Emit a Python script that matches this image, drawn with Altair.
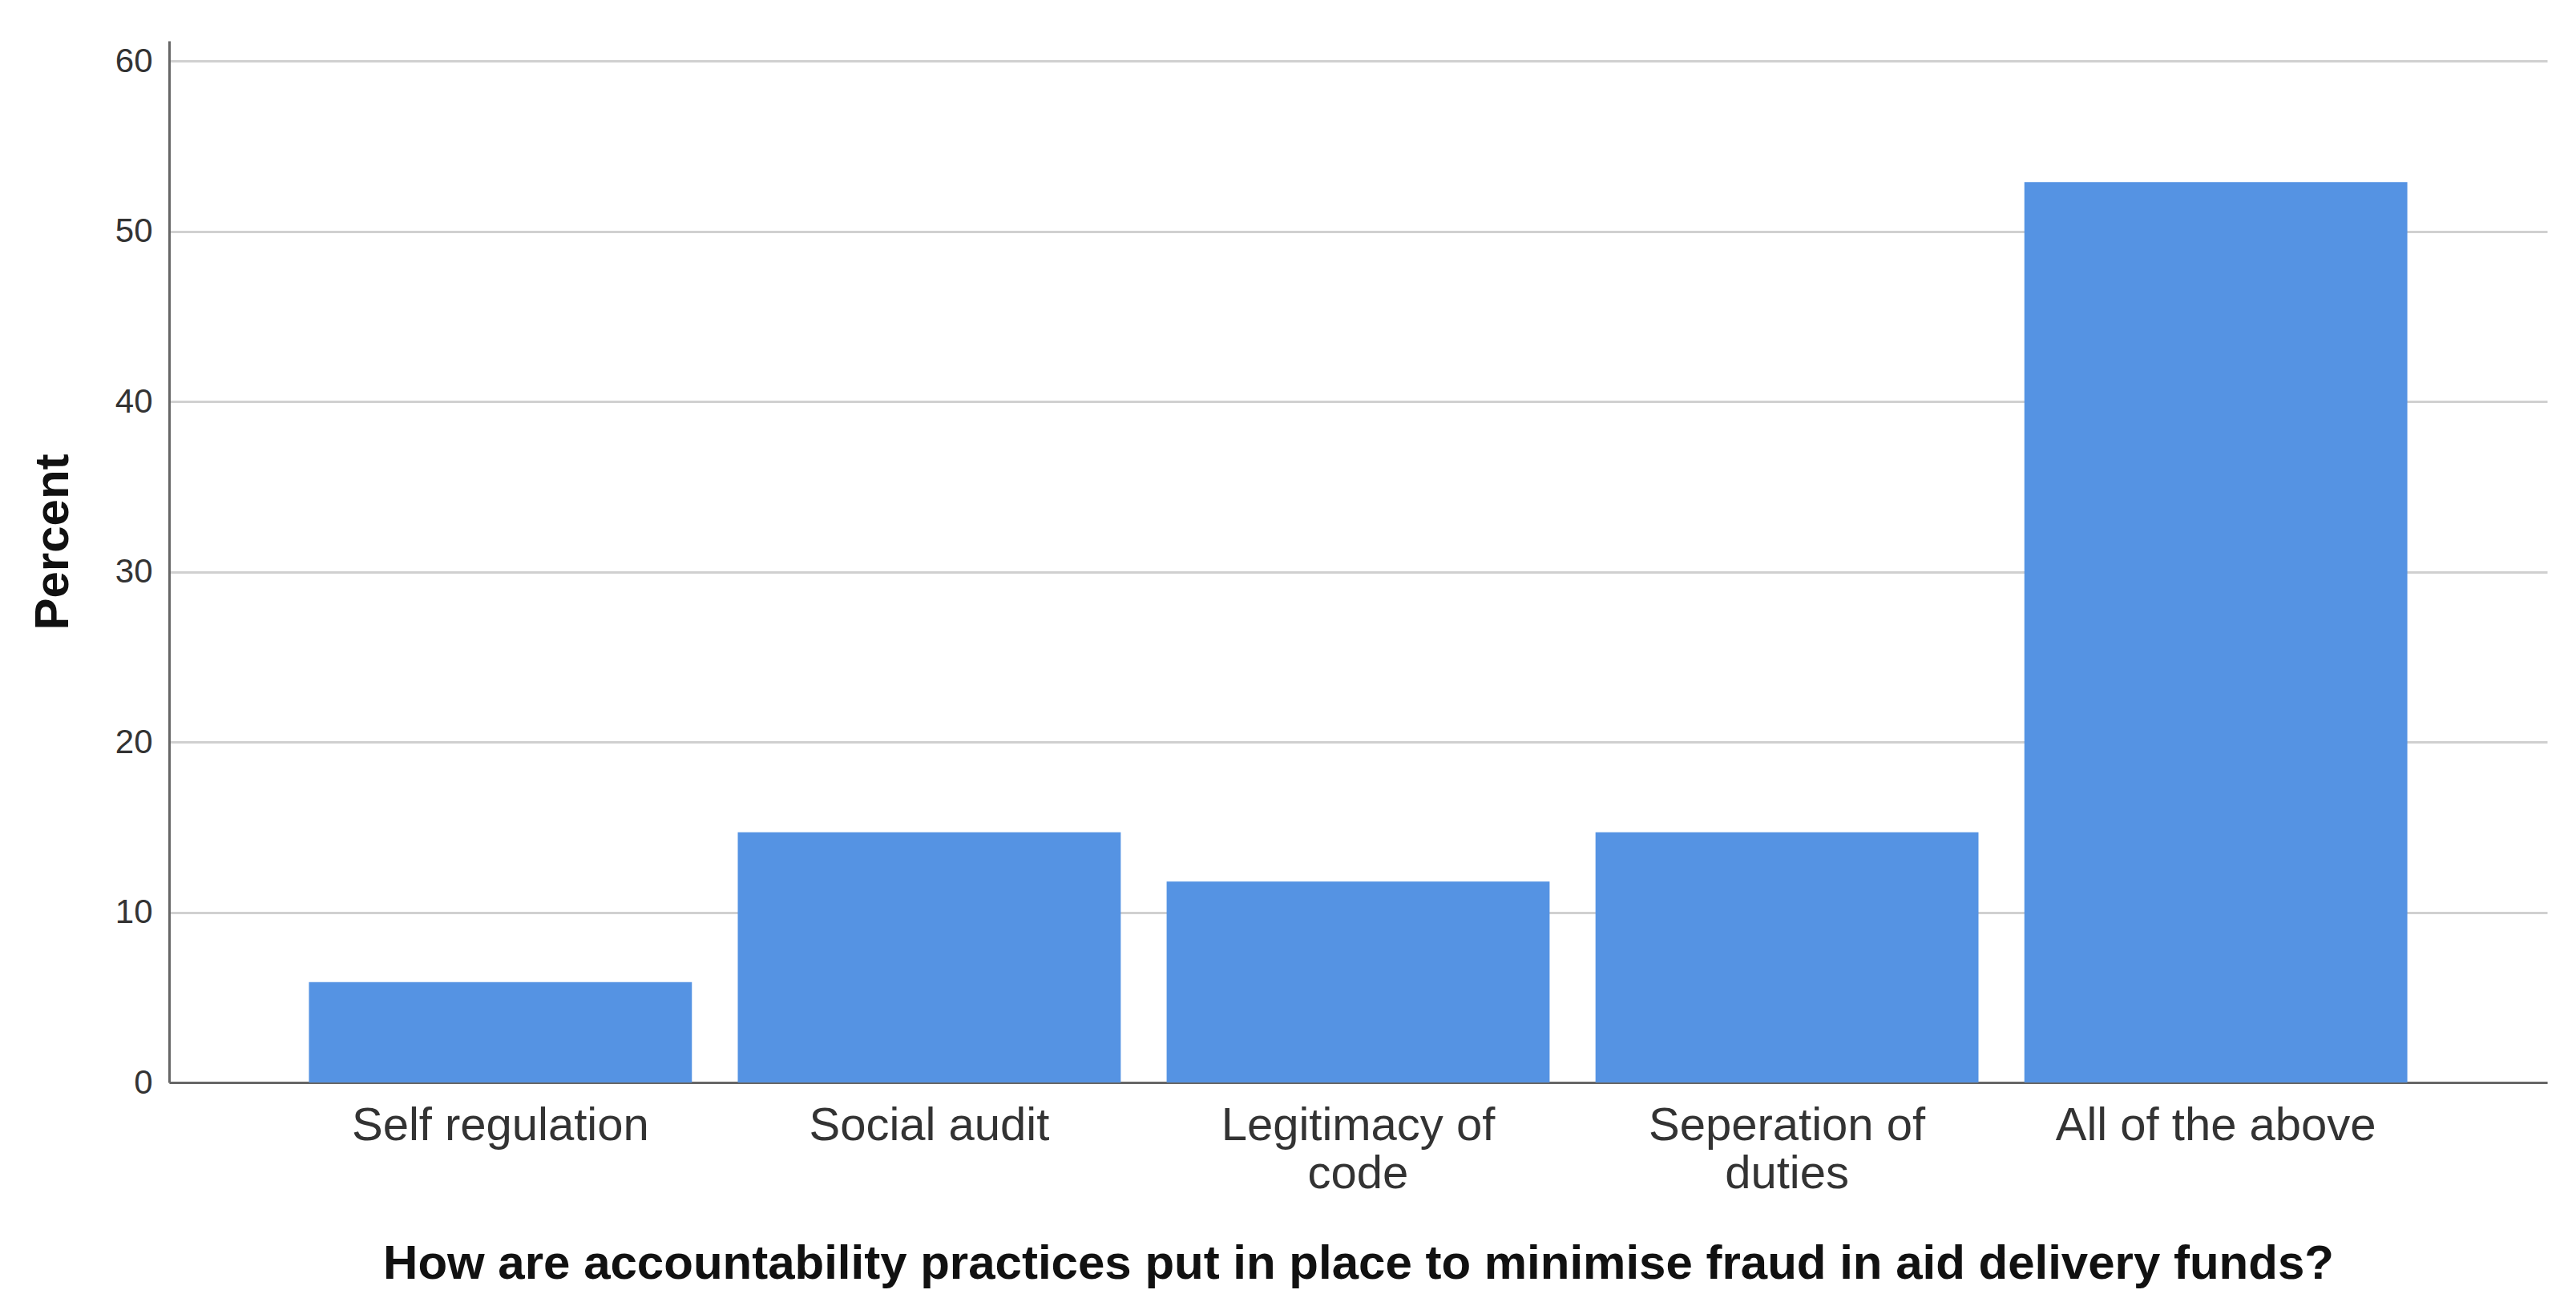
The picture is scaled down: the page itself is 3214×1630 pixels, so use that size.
import altair as alt
import pandas as pd

categories = ["Self regulation", "Social audit", "Legitimacy of code", "Seperation of duties", "All of the above"]
label_lines = [["Self regulation"], ["Social audit"], ["Legitimacy of", "code"], ["Seperation of", "duties"], ["All of the above"]]
percent = [5.9, 14.7, 11.8, 14.7, 52.9]
y_ticks = [0, 10, 20, 30, 40, 50, 60]

x_title = "How are accountability practices put in place to minimise fraud in aid delivery funds?"
y_title = "Percent"

df = pd.DataFrame({"category": categories, "percent": percent})

# Build multi-line label expression
expr = "datum.value"
for cat, lines in zip(categories, label_lines):
    if len(lines) > 1:
        arr = "[" + ",".join("'" + l + "'" for l in lines) + "]"
        expr = f"datum.value == '{cat}' ? {arr} : " + expr

FONT = "Liberation Sans"

chart = alt.Chart(df).mark_bar(color="#5593e3").encode(
    x=alt.X(
        "category:N",
        sort=categories,
        scale=alt.Scale(paddingInner=0.107, paddingOuter=0.326),
        axis=alt.Axis(
            title=x_title,
            labelExpr=expr,
            labelAngle=0,
            labelFont=FONT,
            labelFontSize=58,
            labelColor="#333333",
            labelLineHeight=60,
            labelLimit=2000,
            labelPadding=25,
            ticks=False,
            grid=False,
            domainColor="#666666",
            domainWidth=3,
            titleFont=FONT,
            titleFontSize=60,
            titleFontWeight="bold",
            titleColor="#111111",
            titleBaseline="alphabetic",
            titleY=244,
        ),
    ),
    y=alt.Y(
        "percent:Q",
        scale=alt.Scale(domain=[0, 61.2], nice=False, zero=True),
        axis=alt.Axis(
            title=y_title,
            values=y_ticks,
            labelFont=FONT,
            labelFontSize=42,
            labelColor="#333333",
            labelPadding=21,
            ticks=False,
            grid=True,
            gridColor="#d0d0d0",
            gridWidth=3,
            domainColor="#666666",
            domainWidth=3,
            titleFont=FONT,
            titleFontSize=60,
            titleFontWeight="bold",
            titleColor="#111111",
            titleAngle=270,
            titleBaseline="alphabetic",
            titleAlign="center",
            titleX=-127,
            titleY=625,
        ),
    ),
).properties(
    width=2967,
    height=1300,
    background="white",
    autosize=alt.AutoSizeParams(type="none"),
    padding={"left": 203, "top": 43, "right": 20, "bottom": 270},
).configure_view(stroke=None)

chart.save("out.html", embed_options={"renderer": "svg", "actions": False})
